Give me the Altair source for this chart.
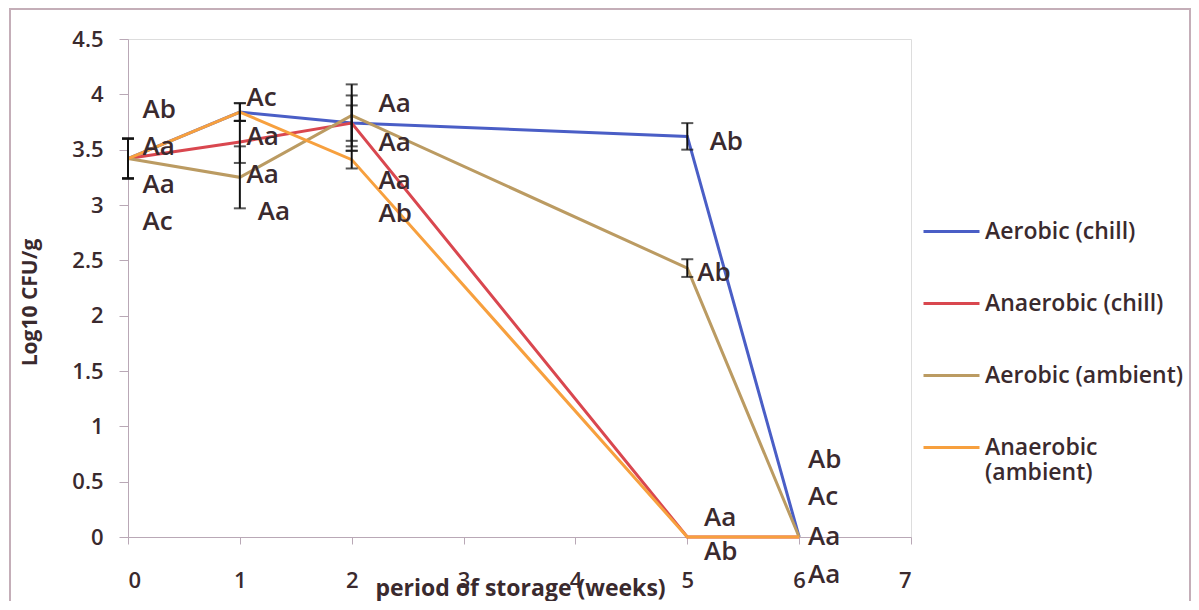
import altair as alt
import pandas as pd

# ---- data ----
weeks = [0, 1, 2, 5, 6]
series_names = ["Aerobic (chill)", "Anaerobic (chill)", "Aerobic (ambient)", "Anaerobic (ambient)"]
aerobic_chill = [3.42, 3.84, 3.74, 3.62, 0.0]
anaerobic_chill = [3.42, 3.57, 3.74, 0.0, 0.0]
aerobic_ambient = [3.42, 3.25, 3.81, 2.43, 0.0]
anaerobic_ambient = [3.42, 3.84, 3.41, 0.0, 0.0]

aerobic_chill_err = [0.18, 0.08, 0.16, 0.12, 0.0]
anaerobic_chill_err = [0.18, 0.19, 0.25, 0.0, 0.0]
aerobic_ambient_err = [0.18, 0.28, 0.28, 0.08, 0.0]
anaerobic_ambient_err = [0.18, 0.08, 0.08, 0.0, 0.0]

# letter annotations: x (weeks), y (log10 CFU/g), text
ann_x = [0.13, 0.13, 0.13, 0.13,
         1.06, 1.06, 1.06, 1.16,
         2.24, 2.24, 2.24, 2.24,
         5.2, 5.09, 5.15, 5.15,
         6.08, 6.08, 6.08, 6.08]
ann_y = [3.86, 3.52, 3.18, 2.85,
         3.97, 3.61, 3.27, 2.94,
         3.91, 3.56, 3.22, 2.92,
         3.57, 2.39, 0.17, -0.14,
         0.70, 0.36, 0.0, -0.34]
ann_text = ["Ab", "Aa", "Aa", "Ac",
            "Ac", "Aa", "Aa", "Aa",
            "Aa", "Aa", "Aa", "Ab",
            "Ab", "Ab", "Aa", "Ab",
            "Ab", "Ac", "Aa", "Aa"]

y_ticks = [0, 0.5, 1, 1.5, 2, 2.5, 3, 3.5, 4, 4.5]
x_ticks = [0, 1, 2, 3, 4, 5, 6, 7]

colors = ["#4a5ec6", "#d9474f", "#bb9b62", "#f7a03e"]

vals = [aerobic_chill, anaerobic_chill, aerobic_ambient, anaerobic_ambient]
errs = [aerobic_chill_err, anaerobic_chill_err, aerobic_ambient_err, anaerobic_ambient_err]

rows = []
err_rows = []
for name, v, e in zip(series_names, vals, errs):
    for w, val, er in zip(weeks, v, e):
        rows.append({"series": name, "week": w, "value": val})
        if er > 0:
            err_rows.append({"series": name, "week": w, "lo": val - er, "hi": val + er})
df = pd.DataFrame(rows)
df_err = pd.DataFrame(err_rows)
df_ann = pd.DataFrame({"x": ann_x, "y": ann_y, "t": ann_text})

FONT = "Open Sans"
TXT = "#3a2a2e"
AXC = "#b9a8b6"
W = 600

xscale = alt.Scale(domain=[0, 7], nice=False)
yscale = alt.Scale(domain=[0, 4.5], nice=False)

lines = alt.Chart(df).mark_line(strokeWidth=3, clip=False).encode(
    x=alt.X("week:Q", scale=xscale,
            axis=alt.Axis(values=x_ticks, format="d", title="period of storage (weeks)",
                          grid=False, domainColor=AXC, tickColor=AXC, tickSize=7,
                          labelPadding=26, labelFontSize=22, labelColor=TXT, labelFont=FONT,
                          labelFontWeight=W,
                          titleFont=FONT, titleFontSize=23, titleFontWeight="bold", titleColor=TXT,
                          titleX=392, titleY=58, titleBaseline="alphabetic")),
    y=alt.Y("value:Q", scale=yscale,
            axis=alt.Axis(values=y_ticks, format="~f", title="Log10 CFU/g",
                          grid=False, domainColor=AXC, tickColor=AXC, tickSize=9,
                          labelPadding=16, labelFontSize=22, labelColor=TXT, labelFont=FONT,
                          labelFontWeight=W,
                          titleFont=FONT, titleFontSize=21, titleFontWeight="bold", titleColor=TXT,
                          titleX=-98, titleY=263, titleAngle=-90, titleBaseline="middle")),
    color=alt.Color("series:N", scale=alt.Scale(domain=series_names, range=colors),
                    legend=alt.Legend(title=None, orient="none", legendX=794, legendY=163,
                                      symbolType="stroke", symbolSize=3136, symbolStrokeWidth=3,
                                      labelFont=FONT, labelFontSize=23, labelColor=TXT,
                                      labelFontWeight=W,
                                      labelOffset=4, rowPadding=30, labelLimit=300,
                                      labelExpr="datum.label == 'Anaerobic (ambient)' ? ['Anaerobic', '(ambient)'] : datum.label")),
    order="week:Q",
)

err_rule = alt.Chart(df_err).mark_rule(color="#111111", strokeWidth=2).encode(
    x="week:Q", y="lo:Q", y2="hi:Q")
err_lo = alt.Chart(df_err).mark_tick(color="#111111", thickness=2, size=12, orient="horizontal").encode(
    x="week:Q", y="lo:Q")
err_hi = alt.Chart(df_err).mark_tick(color="#111111", thickness=2, size=12, orient="horizontal").encode(
    x="week:Q", y="hi:Q")

labels = alt.Chart(df_ann).mark_text(align="left", baseline="middle", font=FONT, fontSize=26,
                                     fontWeight=W, color=TXT, clip=False).encode(
    x=alt.X("x:Q", scale=xscale), y=alt.Y("y:Q", scale=yscale), text="t:N")

frame = alt.Chart(df_ann).mark_rect(fill=None, stroke="#c4aeb8", strokeWidth=2).encode(
    x=alt.value(-118), x2=alt.value(1062), y=alt.value(-30), y2=alt.value(620))

chart = alt.layer(frame, lines, err_rule, err_lo, err_hi, labels).properties(
    width=783, height=498,
    autosize=alt.AutoSizeParams(type="none"),
    padding={"left": 120, "top": 31, "right": 280, "bottom": 64},
).configure_view(stroke=None).configure(background="white")

chart.save("out.html", embed_options={"renderer": "svg", "actions": False})
